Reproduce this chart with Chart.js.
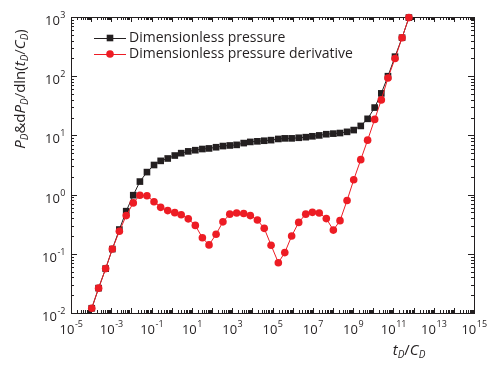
<!DOCTYPE html>
<html>
<head>
<meta charset="utf-8">
<script src="https://cdn.jsdelivr.net/npm/chart.js@4.4.1/dist/chart.umd.min.js"></script>
<style>
  html, body { margin: 0; padding: 0; background: #fff; }
  #wrap { width: 490px; height: 365px; }
</style>
</head>
<body>
<div id="wrap"><canvas id="chart" width="490" height="365"></canvas></div>
<script>
/* Type curve: dimensionless pressure and its derivative vs tD/CD (log-log) */

var FONT = "'Open Sans', sans-serif";
var INK = '#231f20';
var RED = '#ed1c24';

/* log10(tD/CD) of each sample */
var LOG_T = [-3.97, -3.63, -3.28, -2.95, -2.60, -2.26, -1.91, -1.58, -1.23, -0.88,
  -0.55, -0.20, 0.15, 0.47, 0.82, 1.17, 1.52, 1.85, 2.20, 2.54,
  2.88, 3.22, 3.57, 3.90, 4.25, 4.59, 4.93, 5.29, 5.61, 5.95,
  6.30, 6.65, 6.98, 7.32, 7.67, 8.02, 8.35, 8.70, 9.03, 9.38,
  9.72, 10.07, 10.40, 10.73, 11.08, 11.43, 11.77];

/* log10 of PD */
var LOG_P = [-1.92, -1.58, -1.25, -0.92, -0.59, -0.28, -0.01, 0.22, 0.38, 0.50,
  0.57, 0.61, 0.66, 0.70, 0.73, 0.75, 0.77, 0.78, 0.80, 0.82,
  0.83, 0.84, 0.87, 0.89, 0.90, 0.91, 0.92, 0.94, 0.95, 0.95,
  0.96, 0.97, 0.985, 1.00, 1.02, 1.03, 1.04, 1.06, 1.09, 1.16,
  1.28, 1.47, 1.71, 2.00, 2.33, 2.65, 2.99];

/* log10 of dPD/dln(tD/CD) */
var LOG_DP = [-1.92, -1.58, -1.25, -0.92, -0.62, -0.355, -0.14, -0.01, -0.02, -0.12,
  -0.215, -0.27, -0.305, -0.34, -0.41, -0.52, -0.73, -0.85, -0.67, -0.46,
  -0.33, -0.31, -0.32, -0.355, -0.43, -0.57, -0.855, -1.15, -0.98, -0.70,
  -0.47, -0.33, -0.30, -0.31, -0.405, -0.60, -0.44, -0.10, 0.25, 0.59,
  0.92, 1.27, 1.60, 1.97, 2.30, 2.65, 2.99];

/* axis decades (tick labels are 10^n) */
var X_EXP = [-5, -3, -1, 1, 3, 5, 7, 9, 11, 13, 15];
var Y_EXP = [-2, -1, 0, 1, 2, 3];

var SERIES_NAMES = ['Dimensionless pressure', 'Dimensionless pressure derivative'];

function toPoints(lx, ly) {
  return lx.map(function(v, i) { return { x: Math.pow(10, v), y: Math.pow(10, ly[i]) }; });
}

/* Draw "10" with a raised exponent; align = 'center' or 'right' */
function drawPow(ctx, exp, x, y, align) {
  var base = '10', sup = String(exp);
  ctx.font = '13px ' + FONT;
  var wb = ctx.measureText(base).width;
  ctx.font = '9px ' + FONT;
  var ws = ctx.measureText(sup).width;
  var x0 = align === 'center' ? x - (wb + ws) / 2 : x - wb - ws;
  ctx.textAlign = 'left';
  ctx.textBaseline = 'alphabetic';
  ctx.font = '13px ' + FONT;
  ctx.fillText(base, x0, y);
  ctx.font = '9px ' + FONT;
  ctx.fillText(sup, x0 + wb + 0.5, y - 7);
}

/* Draw a run of text pieces {t, it, sub} starting at x along the baseline */
function drawRich(ctx, parts, x, y, size) {
  parts.forEach(function(p) {
    var sz = p.sub ? Math.round(size * 0.68) : size;
    ctx.font = (p.it ? 'italic ' : '') + sz + 'px ' + FONT;
    ctx.fillText(p.t, x, p.sub ? y + 3 : y);
    x += ctx.measureText(p.t).width;
  });
}
function richWidth(ctx, parts, size) {
  var w = 0;
  parts.forEach(function(p) {
    var sz = p.sub ? Math.round(size * 0.68) : size;
    ctx.font = (p.it ? 'italic ' : '') + sz + 'px ' + FONT;
    w += ctx.measureText(p.t).width;
  });
  return w;
}

var Y_TITLE = [
  { t: 'P', it: true }, { t: 'D', it: true, sub: true }, { t: '&d' },
  { t: 'P', it: true }, { t: 'D', it: true, sub: true }, { t: '/dln(' },
  { t: 't', it: true }, { t: 'D', it: true, sub: true }, { t: '/' },
  { t: 'C', it: true }, { t: 'D', it: true, sub: true }, { t: ')' }
];
var X_TITLE = [
  { t: 't', it: true }, { t: 'D', it: true, sub: true }, { t: '/' },
  { t: 'C', it: true }, { t: 'D', it: true, sub: true }
];

/* Frame, inward ticks, labels and titles */
var framePlugin = {
  id: 'frame',
  beforeDatasetsDraw: function(chart) {
    var ctx = chart.ctx, a = chart.chartArea;
    var xs = chart.scales.x, ys = chart.scales.y;
    ctx.save();
    ctx.strokeStyle = INK;
    ctx.lineWidth = 1;
    ctx.strokeRect(Math.round(a.left) + 0.5, Math.round(a.top) + 0.5,
      Math.round(a.right - a.left), Math.round(a.bottom - a.top));

    ctx.beginPath();
    var e, m, p, len;
    for (e = X_EXP[0]; e <= X_EXP[X_EXP.length - 1]; e++) {
      for (m = 1; m < 10; m++) {
        if (e === X_EXP[X_EXP.length - 1] && m > 1) break;
        p = Math.round(xs.getPixelForValue(m * Math.pow(10, e))) + 0.5;
        len = m === 1 ? 5 : 3;
        ctx.moveTo(p, a.bottom); ctx.lineTo(p, a.bottom - len);
        ctx.moveTo(p, a.top); ctx.lineTo(p, a.top + len);
      }
    }
    for (e = Y_EXP[0]; e <= Y_EXP[Y_EXP.length - 1]; e++) {
      for (m = 1; m < 10; m++) {
        if (e === Y_EXP[Y_EXP.length - 1] && m > 1) break;
        p = Math.round(ys.getPixelForValue(m * Math.pow(10, e))) + 0.5;
        len = m === 1 ? 6 : 3;
        ctx.moveTo(a.left, p); ctx.lineTo(a.left + len, p);
        ctx.moveTo(a.right, p); ctx.lineTo(a.right - len, p);
      }
    }
    ctx.stroke();

    ctx.fillStyle = INK;
    X_EXP.forEach(function(n) {
      drawPow(ctx, n, xs.getPixelForValue(Math.pow(10, n)), a.bottom + 21, 'center');
    });
    Y_EXP.forEach(function(n) {
      drawPow(ctx, n, a.left - 6, ys.getPixelForValue(Math.pow(10, n)) + 8, 'right');
    });

    // y title, rotated
    var tw = richWidth(ctx, Y_TITLE, 15);
    ctx.save();
    ctx.translate(25, 89);
    ctx.rotate(-Math.PI / 2);
    ctx.textAlign = 'left';
    drawRich(ctx, Y_TITLE, -tw / 2, 0, 15);
    ctx.restore();

    // x title
    var xw = richWidth(ctx, X_TITLE, 15);
    drawRich(ctx, X_TITLE, 409 - xw / 2, 355, 15);

    // legend
    chart.data.datasets.forEach(function(ds, i) {
      var ly = 38 + i * 16;
      ctx.strokeStyle = ds.borderColor;
      ctx.beginPath(); ctx.moveTo(94, ly + 0.5); ctx.lineTo(126, ly + 0.5); ctx.stroke();
      ctx.fillStyle = ds.backgroundColor;
      if (ds.pointStyle === 'rect') {
        ctx.fillRect(110 - 3.3, ly - 3.3, 6.6, 6.6);
      } else {
        ctx.beginPath(); ctx.arc(110, ly, ds.pointRadius, 0, Math.PI * 2); ctx.fill();
      }
      ctx.fillStyle = INK;
      ctx.font = '14px ' + FONT;
      ctx.textBaseline = 'middle';
      ctx.fillText(ds.label, 129, ly);
      ctx.textBaseline = 'alphabetic';
    });
    ctx.restore();
  }
};

new Chart(document.getElementById('chart'), {
  type: 'scatter',
  data: {
    datasets: [
      {
        label: SERIES_NAMES[0], data: toPoints(LOG_T, LOG_P), showLine: true,
        borderColor: INK, backgroundColor: INK, borderWidth: 1,
        pointStyle: 'rect', pointRadius: 4.7, pointBorderWidth: 0, order: 2, clip: false
      },
      {
        label: SERIES_NAMES[1], data: toPoints(LOG_T, LOG_DP), showLine: true,
        borderColor: RED, backgroundColor: RED, borderWidth: 1,
        pointStyle: 'circle', pointRadius: 3.8, pointBorderWidth: 0, order: 1, clip: false
      }
    ]
  },
  options: {
    responsive: false, animation: false, devicePixelRatio: 1,
    layout: { padding: { left: 71, right: 16, top: 17, bottom: 52 } },
    plugins: { legend: { display: false }, tooltip: { enabled: false } },
    scales: {
      x: { type: 'logarithmic', display: false, min: 1e-5, max: 1e15 },
      y: { type: 'logarithmic', display: false, min: 1e-2, max: 1e3 }
    }
  },
  plugins: [framePlugin]
});
</script>
</body>
</html>
